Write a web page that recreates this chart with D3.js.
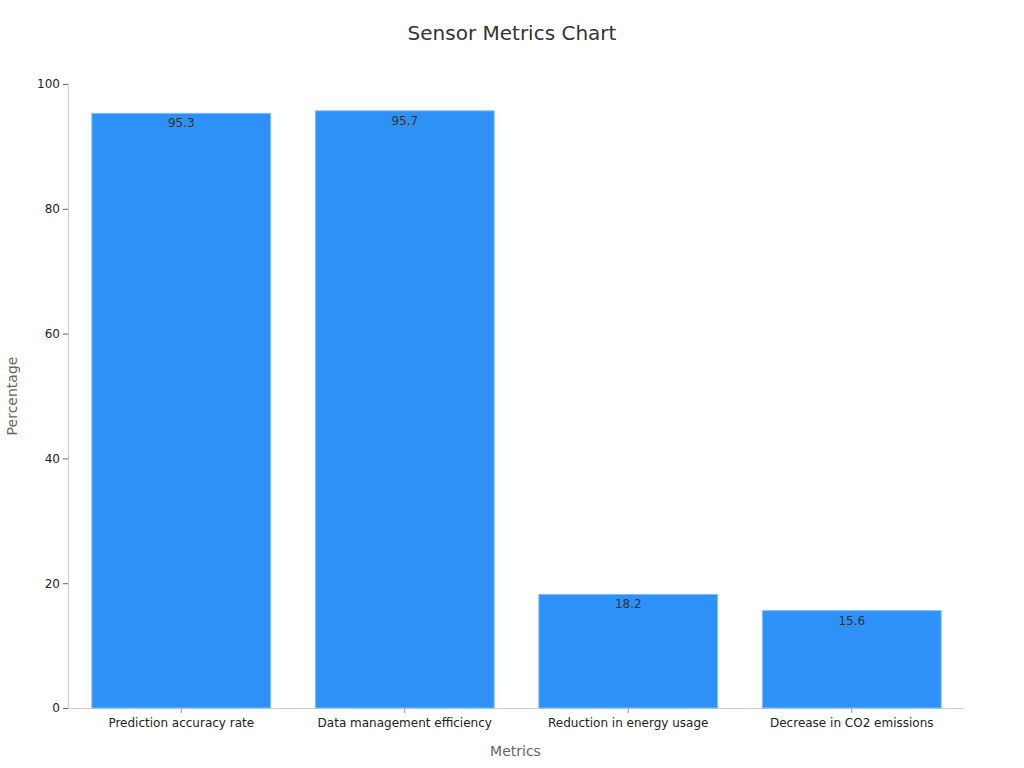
<!DOCTYPE html>
<html>
<head>
	<meta charset="utf-8">
	<title>Sensor Metrics Chart</title>
	<script src="https://cdn.jsdelivr.net/npm/d3@7/dist/d3.min.js"></script>
	<style>
		body { margin: 0; background: #fff; }
		text { font-family: "DejaVu Sans", sans-serif; }
	</style>
</head>
<body>
	<script>
	var categories = ["Prediction accuracy rate", "Data management efficiency", "Reduction in energy usage", "Decrease in CO2 emissions"];
	var values = [95.3, 95.7, 18.2, 15.6];
	var yTicks = [0, 20, 40, 60, 80, 100];

	var w = 1024, h = 768;
	var margin = {top: 84, right: 61, bottom: 60, left: 68};
	var iw = w - margin.left - margin.right;
	var ih = h - margin.top - margin.bottom;

	var svg = d3.select("body").append("svg")
		.attr("width", w)
		.attr("height", h);

	var g = svg.append("g").attr("transform", "translate(" + margin.left + "," + margin.top + ")");

	var x = d3.scaleBand().domain(categories).range([1.5, iw + 0.5]).paddingInner(0.2).paddingOuter(0.1);
	var y = d3.scaleLinear().domain([0, 100]).range([ih, 0]);

	// axes
	var yAxis = g.append("g").call(d3.axisLeft(y).tickValues(yTicks).tickSize(5).tickPadding(3));
	yAxis.select(".domain").attr("stroke", "#ccc");
	yAxis.selectAll(".tick line").attr("stroke", "#666");
	yAxis.selectAll(".tick text").attr("fill", "#222").style("font-size", "12px");

	var xAxis = g.append("g").attr("transform", "translate(0," + ih + ")")
		.call(d3.axisBottom(x).tickSize(5).tickPadding(5).tickSizeOuter(0));
	xAxis.select(".domain").attr("stroke", "#ccc");
	xAxis.selectAll(".tick line").attr("stroke", "#999");
	xAxis.selectAll(".tick text").attr("fill", "#222").style("font-size", "12px");

	// bars
	g.selectAll("rect.bar")
		.data(values)
		.enter()
		.append("rect")
		.attr("class", "bar")
		.attr("x", function(d, i) { return x(categories[i]); })
		.attr("y", function(d) { return y(d); })
		.attr("width", x.bandwidth())
		.attr("height", function(d) { return ih - y(d); })
		.attr("fill", "#2e91f8")
		.attr("stroke", "#7fbcfb")
		.attr("stroke-width", 1);

	g.selectAll("text.val")
		.data(values)
		.enter()
		.append("text")
		.attr("class", "val")
		.attr("x", function(d, i) { return x(categories[i]) + x.bandwidth() / 2; })
		.attr("y", function(d) { return y(d) + 14; })
		.attr("text-anchor", "middle")
		.attr("fill", "#333")
		.style("font-size", "12px")
		.text(function(d) { return d; });

	// titles
	svg.append("text")
		.attr("x", w / 2)
		.attr("y", 40)
		.attr("text-anchor", "middle")
		.attr("fill", "#333")
		.style("font-size", "20px")
		.text("Sensor Metrics Chart");

	svg.append("text")
		.attr("x", margin.left + iw / 2)
		.attr("y", 756)
		.attr("text-anchor", "middle")
		.attr("fill", "#666")
		.style("font-size", "14px")
		.text("Metrics");

	svg.append("text")
		.attr("transform", "translate(17," + (margin.top + ih / 2) + ") rotate(-90)")
		.attr("text-anchor", "middle")
		.attr("fill", "#666")
		.style("font-size", "14px")
		.text("Percentage");
	</script>
</body>
</html>
